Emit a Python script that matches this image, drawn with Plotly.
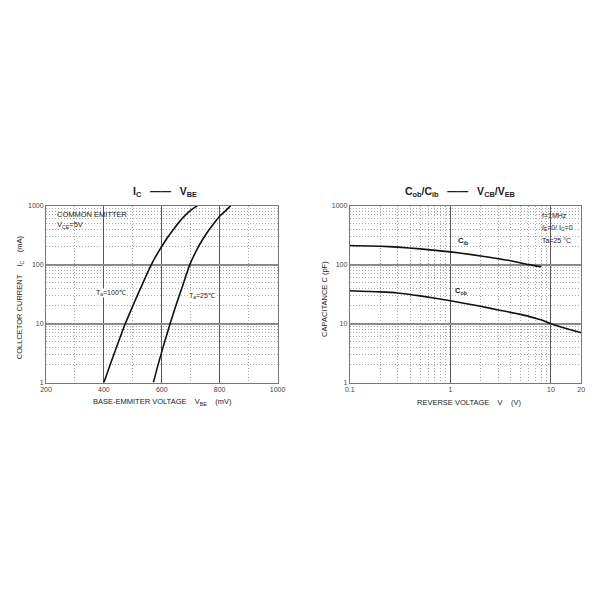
import plotly.graph_objects as go

# ---- data: IC vs VBE ----
vbe_100 = [400, 420, 440, 460, 474, 500, 520, 540, 563, 580, 600, 620, 646, 660, 680, 700, 723]
ic_100 = [1, 1.9, 3.57, 6.6, 10, 20, 33.5, 55.6, 97.7, 140, 204, 288, 431, 525, 676, 832, 1000]
vbe_25 = [571, 590, 610, 629, 650, 670, 697, 720, 740, 760, 780, 800, 820, 838]
ic_25 = [1, 2.24, 4.9, 10, 21, 40.7, 100, 174, 261, 368, 497, 660, 813, 1000]

# ---- data: capacitance vs reverse voltage ----
vr_cib = [0.1, 0.2, 0.3, 0.5, 1, 2, 3, 4, 6, 8]
cib = [211, 205, 198, 185, 164, 140, 126, 116, 100, 92]
vr_cob = [0.1, 0.2, 0.3, 0.5, 1, 2, 3, 5, 7, 8, 10, 15, 20]
cob = [36, 34.5, 33, 29.5, 24.4, 19.6, 17, 14.3, 12.3, 11.6, 9.9, 8.0, 7.0]

x1_ticks = [200, 400, 600, 800, 1000]
x1_minor = [300, 500, 700, 900]
y_ticks = [1, 10, 100, 1000]
y_ticktext = ["1", "10", "100", "1000"]
y_minor = [2, 3, 4, 5, 6, 7, 8, 9, 20, 30, 40, 50, 60, 70, 80, 90,
           200, 300, 400, 500, 600, 700, 800, 900]
x2_ticks = [0.1, 1, 10, 20]
x2_ticktext = ["0.1", "1", "10", "20"]
x2_minor = [0.2, 0.3, 0.4, 0.5, 0.6, 0.7, 0.8, 0.9, 2, 3, 4, 5, 6, 7, 8, 9]

W = H = 600
def px(x): return x / W
def py(y): return 1 - y / H

FONT = "Liberation Sans, Arial, sans-serif"
line = dict(color="#111", width=1.6, shape="spline", smoothing=0.6)

fig = go.Figure()
fig.add_trace(go.Scatter(x=vbe_100, y=ic_100, mode="lines", line=line,
                         xaxis="x", yaxis="y", showlegend=False))
fig.add_trace(go.Scatter(x=vbe_25, y=ic_25, mode="lines", line=line,
                         xaxis="x", yaxis="y", showlegend=False))
fig.add_trace(go.Scatter(x=vr_cib, y=cib, mode="lines", line=line,
                         xaxis="x2", yaxis="y2", showlegend=False))
fig.add_trace(go.Scatter(x=vr_cob, y=cob, mode="lines", line=line,
                         xaxis="x2", yaxis="y2", showlegend=False))

tickfont = dict(family=FONT, size=7, color="#444")
minor_common = dict(showgrid=True, griddash="1px,2px", gridcolor="#a8a8a8", gridwidth=1, ticks="")
ydom = [py(383), py(204)]

axis_common = dict(showline=True, linecolor="#777", linewidth=1, mirror=True,
                   ticks="", tickfont=tickfont, zeroline=False, showgrid=True)

fig.update_layout(
    width=W, height=H, margin=dict(l=0, r=0, t=0, b=0),
    paper_bgcolor="white", plot_bgcolor="white",
    font=dict(family=FONT, color="#222"),
    xaxis=dict(axis_common, domain=[px(41), px(278)], anchor="y", range=[200, 1000],
               tickmode="array", tickvals=x1_ticks, gridcolor="#555", gridwidth=1,
               minor=dict(minor_common, tickmode="array", tickvals=x1_minor)),
    yaxis=dict(axis_common, domain=ydom, anchor="x", type="log", range=[0, 3],
               tickmode="array", tickvals=y_ticks, ticktext=y_ticktext,
               gridcolor="#8a8a8a", gridwidth=1.5,
               minor=dict(minor_common, tickmode="array", tickvals=y_minor)),
    xaxis2=dict(axis_common, domain=[px(352), px(589)], anchor="y2", type="log",
                range=[-1, 1.30103], tickmode="array", tickvals=x2_ticks, ticktext=x2_ticktext,
                gridcolor="#555", gridwidth=1,
                minor=dict(minor_common, tickmode="array", tickvals=x2_minor)),
    yaxis2=dict(axis_common, domain=ydom, anchor="x2", type="log", range=[0, 3],
                tickmode="array", tickvals=y_ticks, ticktext=y_ticktext,
                gridcolor="#8a8a8a", gridwidth=1.5,
                minor=dict(minor_common, tickmode="array", tickvals=y_minor)),
)

# white boxes behind the in-plot notes (cover the grid like the original)
fig.add_shape(type="rect", xref="paper", yref="paper", x0=px(42), x1=px(128),
              y0=py(232), y1=py(205), fillcolor="white", line_width=0, layer="between")
fig.add_shape(type="rect", xref="paper", yref="paper", x0=px(545), x1=px(588),
              y0=py(247), y1=py(205), fillcolor="white", line_width=0, layer="between")

def note(x, y, text, size=7.5, angle=0, bg=None, xanchor="center"):
    fig.add_annotation(xref="paper", yref="paper", x=px(x), y=py(y), text=text,
                       showarrow=False, textangle=angle, xanchor=xanchor, yanchor="middle",
                       bgcolor=bg, borderpad=0,
                       font=dict(family=FONT, size=size, color="#222"))

# titles
note(163, 190, "<b>I<sub>C</sub>   ——   V<sub>BE</sub></b>", size=10.5)
note(465, 190, "<b>C<sub>ob</sub>/C<sub>ib</sub>   ——   V<sub>CB</sub>/V<sub>EB</sub></b>", size=10.5)

# axis titles
note(160, 403, "BASE-EMMITER VOLTAGE    V<sub>BE</sub>    (mV)", size=7.5)
note(14, 297, "COLLCETOR CURRENT    I<sub>C</sub>    (mA)", size=7.5, angle=-90)
note(474, 403, "REVERSE VOLTAGE    V    (V)", size=7.5)
note(326, 298, "CAPACITANCE C (pF)", size=7.5, angle=-90)

# in-plot notes
note(51, 213, "COMMON EMITTER", size=7.5, xanchor="left")
note(51, 224, "V<sub>CE</sub>=5V", size=7.5, xanchor="left")
note(107, 292, "T<sub>a</sub>=100℃", size=7, bg="white")
note(201, 295, "T<sub>a</sub>=25℃", size=7, bg="white")
note(468, 240, "<b>C<sub>ib</sub></b>", size=7.5)
note(466, 290, "<b>C<sub>ob</sub></b>", size=7.5)
note(548, 214, "f=1MHz", size=7, xanchor="left")
note(548, 227, "I<sub>E</sub>=0/ I<sub>C</sub>=0", size=7, xanchor="left")
note(548, 239, "Ta=25 °C", size=7, xanchor="left")

fig.write_html("out.html", config={"displayModeBar": False},
               post_script="document.body.style.margin='0';document.body.style.overflow='hidden';")
